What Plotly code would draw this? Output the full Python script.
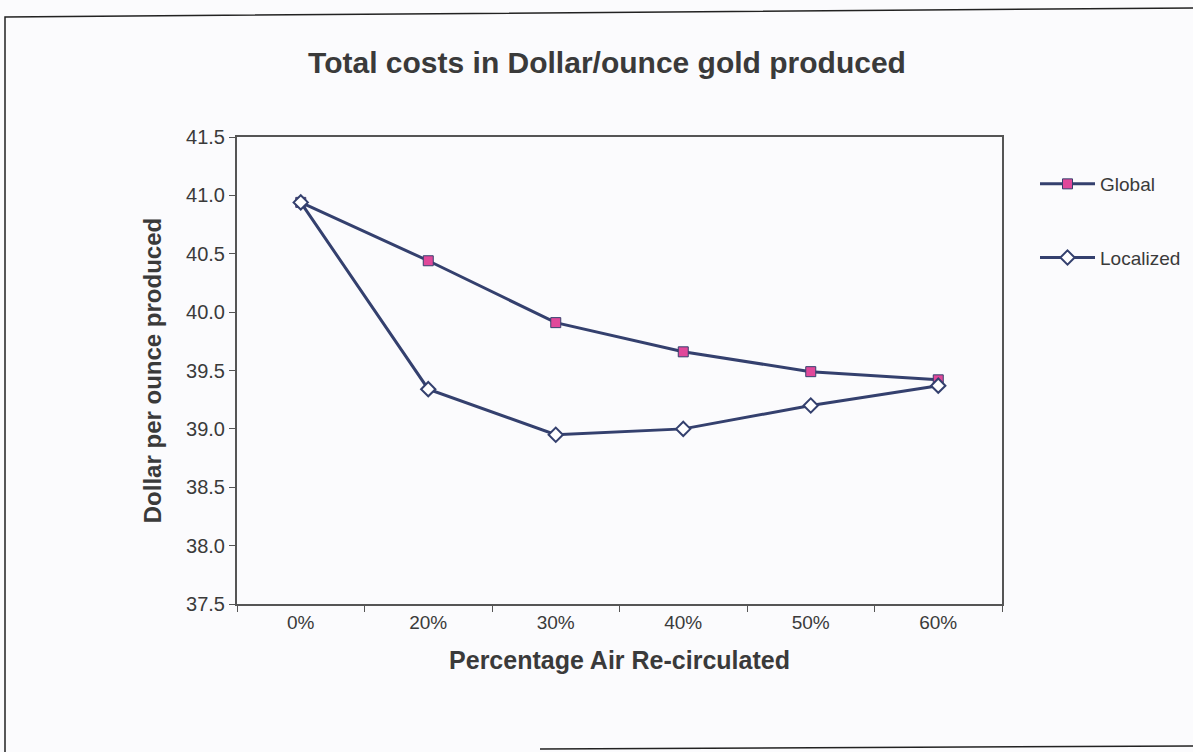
import plotly.graph_objects as go

# Category labels and series values (Dollar per ounce of gold produced)
categories = ["0%", "20%", "30%", "40%", "50%", "60%"]
global_costs = [40.94, 40.44, 39.91, 39.66, 39.49, 39.42]
localized_costs = [40.94, 39.34, 38.95, 39.00, 39.20, 39.37]
y_ticks = [37.5, 38.0, 38.5, 39.0, 39.5, 40.0, 40.5, 41.0, 41.5]

NAVY = "#34406e"
PINK = "#e0489a"
INK = "#3a3a3a"
FONT = "Liberation Sans, Arial, sans-serif"

# plot area in pixels
W, H = 1193, 752
L, R, T, B = 237, 1002, 137, 604


def px(x):
    return (x - L) / (R - L)


def py(y):
    return (B - y) / (B - T)


fig = go.Figure()

fig.add_trace(go.Scatter(
    x=categories, y=global_costs, name="Global", mode="lines+markers",
    line=dict(color=NAVY, width=3),
    marker=dict(symbol="square", size=10, color=PINK,
                line=dict(color=NAVY, width=1)),
    legendgroup="g",
))
fig.add_trace(go.Scatter(
    x=categories, y=localized_costs, name="Localized", mode="lines+markers",
    line=dict(color=NAVY, width=3),
    marker=dict(symbol="diamond", size=11, color="white",
                line=dict(color=NAVY, width=2)),
    legendgroup="l",
))

# page border
fig.add_shape(type="path", xref="paper", yref="paper",
              path=f"M {px(5)} {py(752)} L {px(5)} {py(17)} L {px(1193)} {py(8)}",
              line=dict(color="#222", width=1.5))
fig.add_shape(type="line", xref="paper", yref="paper",
              x0=px(540), y0=py(749), x1=px(1193), y1=py(746),
              line=dict(color="#222", width=1.5))

fig.update_layout(
    width=W, height=H,
    margin=dict(l=L, r=W - R, t=T, b=H - B, autoexpand=False),
    paper_bgcolor="#fbfbfd",
    plot_bgcolor="#fbfbfd",
    title=dict(text="<b>Total costs in Dollar/ounce gold produced</b>",
               x=607 / W, xanchor="center", y=1 - 62 / H, yanchor="middle",
               font=dict(family=FONT, size=30, color=INK)),
    showlegend=True,
    legend=dict(x=px(1035), y=py(165), xanchor="left", yanchor="top",
                bgcolor="rgba(0,0,0,0)", font=dict(family=FONT, size=19, color=INK),
                itemwidth=55, tracegroupgap=46, traceorder="grouped"),
    xaxis=dict(
        type="category", range=[-0.5, 5.5],
        showline=True, linecolor="#555", linewidth=2, mirror=True,
        ticks="outside", tickson="boundaries", ticklen=6, tickcolor="#555",
        showgrid=False, zeroline=False,
        tickfont=dict(family=FONT, size=19, color=INK),
        title=dict(text="<b>Percentage Air Re-circulated</b>",
                   font=dict(family=FONT, size=25, color=INK), standoff=20),
    ),
    yaxis=dict(
        range=[37.5, 41.5], tickvals=y_ticks,
        ticktext=[f"{v:.1f}" for v in y_ticks],
        showline=True, linecolor="#555", linewidth=2, mirror=True,
        ticks="outside", ticklen=6, tickcolor="#555",
        showgrid=False, zeroline=False,
        tickfont=dict(family=FONT, size=20, color=INK),
        title=dict(text="<b>Dollar per ounce produced</b>",
                   font=dict(family=FONT, size=24, color=INK), standoff=18),
    ),
)

fig.write_html("out.html")
